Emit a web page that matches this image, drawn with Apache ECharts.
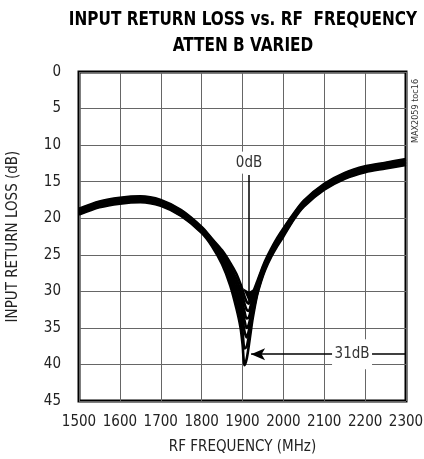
<!DOCTYPE html>
<html><head><meta charset="utf-8">
<script src="https://cdn.jsdelivr.net/npm/echarts@6/dist/echarts.min.js"></script>
<style>html,body{margin:0;padding:0;background:#fff}#c{width:424px;height:459px}</style>
</head><body><div id="c"></div>
<script>
// RF frequency (MHz)
const freq = [1500,1550,1600,1650,1700,1750,1800,1825,1850,1870,1885,1895,1900,1905,1910,1915,1920,1925,1935,1945,1955,1970,1985,2000,2025,2050,2100,2150,2200,2250,2300];
// Input return loss (dB) for each ATTEN B setting
const att0dB  = [18.7,17.7,17.2,17.0,17.5,18.9,21.2,22.8,24.4,26.1,27.6,29.0,29.8,30.7,31.4,31.7,31.2,30.3,28.8,27.3,25.9,24.2,22.7,21.4,19.4,17.6,15.3,13.8,12.9,12.4,11.9];
const att5dB  = [18.8,17.8,17.3,17.1,17.6,19.0,21.3,22.9,24.7,26.6,28.3,29.8,30.7,31.7,32.5,32.7,32.0,31.0,29.2,27.5,26.1,24.4,22.9,21.6,19.5,17.7,15.4,13.9,13.0,12.5,12.0];
const att10dB = [19.0,18.0,17.5,17.3,17.8,19.2,21.4,23.0,25.0,27.1,29.0,30.6,31.7,32.8,33.7,33.6,32.7,31.6,29.6,27.7,26.3,24.6,23.1,21.8,19.7,17.9,15.6,14.1,13.2,12.7,12.2];
const att15dB = [19.1,18.1,17.6,17.4,17.9,19.3,21.6,23.2,25.3,27.6,29.7,31.5,32.7,34.0,35.0,34.6,33.4,32.1,29.9,28.0,26.5,24.7,23.2,21.9,19.8,18.0,15.7,14.2,13.3,12.8,12.3];
const att20dB = [19.2,18.2,17.7,17.5,18.0,19.4,21.7,23.4,25.6,28.1,30.4,32.5,33.9,35.5,36.3,35.5,34.1,32.6,30.2,28.2,26.7,24.9,23.4,22.1,19.9,18.1,15.8,14.3,13.4,12.9,12.4];
const att25dB = [19.4,18.4,17.9,17.7,18.2,19.6,21.9,23.6,25.9,28.6,31.3,33.6,35.4,37.8,37.6,36.3,34.8,33.1,30.5,28.5,26.9,25.1,23.6,22.3,20.1,18.3,16.0,14.5,13.6,13.1,12.6];
const att31dB = [19.5,18.5,18.0,17.8,18.3,19.7,22.0,23.8,26.3,29.2,32.3,34.9,37.2,40.1,39.3,37.6,35.6,33.7,30.7,28.7,27.1,25.3,23.8,22.5,20.2,18.4,16.1,14.6,13.7,13.2,12.7];
const curves = [att0dB, att5dB, att10dB, att15dB, att20dB, att25dB, att31dB];
const curveNames = ['0dB','5dB','10dB','15dB','20dB','25dB','31dB'];
// axis ticks
const xTicks = [1500,1600,1700,1800,1900,2000,2100,2200,2300];
const yTicks = [0,5,10,15,20,25,30,35,40,45];
// annotations (data coordinates)
const arrow0dB = {label:'0dB', freq:1916, labelLoss:12.4, from:14.1, to:31.5};
const arrow31dB = {label:'31dB', labelFreq:2168, loss:38.6, fromFreq:2300, toFreq:1921};

const FONT = '"DejaVu Sans Condensed", "Liberation Sans", sans-serif';
const chart = echarts.init(document.getElementById('c'), null, {renderer:'canvas'});

const series = curves.map((arr, k) => ({
  name: curveNames[k], type:'line', data: freq.map((f,i)=>[f, arr[i]]),
  showSymbol:false, smooth:0.3, z:2,
  lineStyle:{color:'#000', width:2.6}, animation:false
}));
series.push({
  type:'line', data:[], z:4, animation:false,
  markLine:{
    silent:true, animation:false, symbol:['none','arrow'],
    lineStyle:{color:'#000', width:1.5, type:'solid'}, label:{show:false},
    data:[
      [{coord:[arrow0dB.freq, arrow0dB.from], symbol:'none'}, {coord:[arrow0dB.freq, arrow0dB.to], symbol:'arrow', symbolSize:[9,14]}],
      [{coord:[arrow31dB.fromFreq, arrow31dB.loss], symbol:'none'}, {coord:[arrow31dB.toFreq, arrow31dB.loss], symbol:'arrow', symbolSize:[9,14]}]
    ]
  }
});
series.push({
  type:'scatter', data:[], z:6, animation:false,
  markPoint:{
    silent:true, animation:false, symbol:'rect',
    itemStyle:{color:'#fff'},
    label:{show:true, position:'inside', color:'#333', fontFamily:FONT, fontSize:15, formatter:p=>p.name},
    data:[
      {name:arrow0dB.label, coord:[arrow0dB.freq, arrow0dB.labelLoss], symbolSize:[30,22]},
      {name:arrow31dB.label, coord:[arrow31dB.labelFreq, arrow31dB.loss], symbolSize:[40,30]}
    ]
  }
});

chart.setOption({
  animation:false,
  backgroundColor:'#fff',
  graphic:[
    {type:'text', x:243, y:20, scaleY:1.17,
     style:{text:'INPUT RETURN LOSS vs. RF  FREQUENCY', fontFamily:FONT, fontWeight:'bold', fontSize:17, fill:'#000', align:'center', verticalAlign:'middle'}},
    {type:'text', x:243, y:46, scaleY:1.17,
     style:{text:'ATTEN B VARIED', fontFamily:FONT, fontWeight:'bold', fontSize:17, fill:'#000', align:'center', verticalAlign:'middle'}},
    {type:'text', x:416, y:111, rotation:Math.PI/2,
     style:{text:'MAX2059 toc16', fontFamily:FONT, fontSize:9, fill:'#333', align:'center', verticalAlign:'middle'}}
  ],
  grid:{left:79, right:18, top:72, bottom:58, show:true, borderColor:'#000', borderWidth:3, containLabel:false, outerBoundsMode:'none'},
  xAxis:{
    type:'value', min:xTicks[0], max:xTicks[xTicks.length-1], interval:100,
    name:'RF FREQUENCY (MHz)', nameLocation:'middle', nameGap:39,
    nameTextStyle:{fontFamily:FONT, fontSize:15, color:'#222'},
    axisLine:{show:false}, axisTick:{show:false},
    axisLabel:{fontFamily:FONT, fontSize:15, color:'#222', margin:14, formatter:v=>String(v)},
    splitLine:{show:true, lineStyle:{color:'#666', width:1}}
  },
  yAxis:{
    type:'value', inverse:true, min:yTicks[0], max:yTicks[yTicks.length-1], interval:5,
    name:'INPUT RETURN LOSS (dB)', nameLocation:'middle', nameGap:58,
    nameTextStyle:{fontFamily:FONT, fontSize:15, color:'#222'},
    axisLine:{show:false}, axisTick:{show:false},
    axisLabel:{fontFamily:FONT, fontSize:15, color:'#222', margin:18, formatter:v=>String(v)},
    splitLine:{show:true, lineStyle:{color:'#666', width:1}}
  },
  series
});
</script></body></html>
